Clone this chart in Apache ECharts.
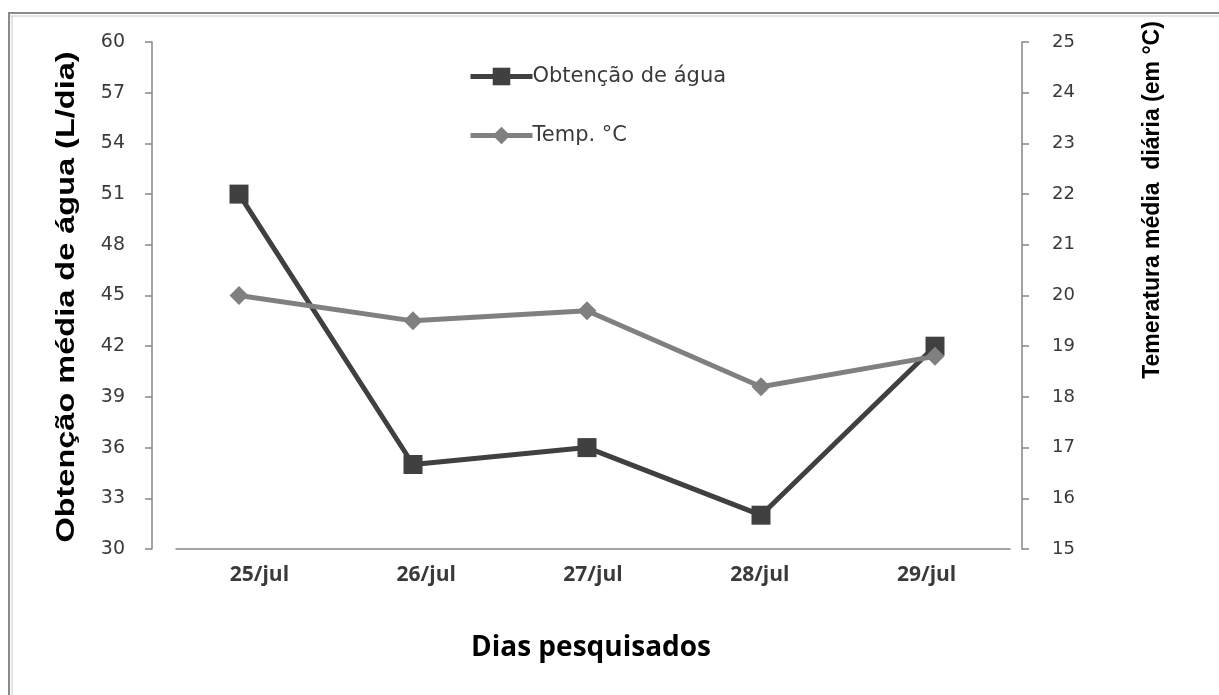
<!DOCTYPE html>
<html>
<head>
<meta charset="utf-8" />
<title></title>
<script src="https://cdn.jsdelivr.net/npm/echarts@6/dist/echarts.min.js"></script>
<style>
html,body{margin:0;padding:0;background:#fff;}
#main{width:1219px;height:695px;}
</style>
</head>
<body>
<div id="main"></div>
<script type="text/javascript">
/* dados */
var dias = ['25/jul', '26/jul', '27/jul', '28/jul', '29/jul'];
var agua = [51, 35, 36, 32, 42];
var temp = [20, 19.5, 19.7, 18.2, 18.8];
var aguaTicks = [30, 60, 3];
var tempTicks = [15, 25, 1];

var chart = echarts.init(document.getElementById('main'));
var cinza = '#868686';
var texto = '#3a3a3a';

var option = {
    animation: false,
    legend: {
        orient: 'vertical',
        left: 463,
        top: 61,
        itemWidth: 62,
        itemHeight: 22,
        itemGap: 38,
        lineStyle: { width: 5 },
        textStyle: { fontFamily: 'DejaVu Sans', fontSize: 21, color: texto, padding: [0, 0, 0, -5] },
        data: ['Obtenção de água', 'Temp. °C']
    },
    grid: [
        { left: 152, right: 197, top: 42, bottom: 146 },
        { left: 176, right: 209, top: 42, bottom: 146 }
    ],
    xAxis: [
        { type: 'category', gridIndex: 0, data: dias, show: false },
        {
            type: 'category', gridIndex: 1, data: dias,
            axisLine: { lineStyle: { color: cinza, width: 1.5 } },
            axisTick: { length: 6, lineStyle: { color: cinza, width: 1.5 } },
            axisLabel: { fontFamily: 'Open Sans', fontSize: 21, fontWeight: 'bold', color: texto, margin: 16 }
        }
    ],
    yAxis: [
        {
            type: 'value', gridIndex: 0, position: 'left',
            min: aguaTicks[0], max: aguaTicks[1], interval: aguaTicks[2],
            splitLine: { show: false },
            axisLine: { show: true, lineStyle: { color: cinza, width: 1.5 } },
            axisTick: { show: true, length: 7, lineStyle: { color: cinza, width: 1.5 } },
            axisLabel: { fontFamily: 'DejaVu Sans', fontSize: 19, color: texto, margin: 27 }
        },
        {
            type: 'value', gridIndex: 0, position: 'right',
            min: tempTicks[0], max: tempTicks[1], interval: tempTicks[2],
            splitLine: { show: false },
            axisLine: { show: true, lineStyle: { color: cinza, width: 1.5 } },
            axisTick: { show: true, length: 7, lineStyle: { color: cinza, width: 1.5 } },
            axisLabel: { fontFamily: 'DejaVu Sans', fontSize: 18, color: texto, margin: 30 }
        },
        { type: 'value', gridIndex: 1, show: false }
    ],
    graphic: [
        { type: 'line', shape: { x1: 8, y1: 13, x2: 1219, y2: 13 }, style: { stroke: '#8a8a8a', lineWidth: 2 } },
        { type: 'line', shape: { x1: 8, y1: 16, x2: 1219, y2: 16 }, style: { stroke: '#c8c8c8', lineWidth: 1 } },
        { type: 'line', shape: { x1: 9, y1: 13, x2: 9, y2: 695 }, style: { stroke: '#8a8a8a', lineWidth: 2 } },
        { type: 'line', shape: { x1: 12, y1: 16, x2: 12, y2: 695 }, style: { stroke: '#c8c8c8', lineWidth: 1 } },
        {
            type: 'text', x: 67, y: 297, rotation: Math.PI / 2, scaleX: 1.3,
            style: {
                text: 'Obtenção média de água (L/dia)', x: 0, y: 0,
                align: 'center', verticalAlign: 'middle',
                font: 'bold 25px "Liberation Sans"', fill: '#000'
            }
        },
        {
            type: 'text', x: 1153, y: 200, rotation: Math.PI / 2,
            style: {
                text: 'Temeratura média  diária (em °C)', x: 0, y: 0,
                align: 'center', verticalAlign: 'middle',
                font: 'bold 23px "Liberation Sans"', fill: '#000'
            }
        },
        {
            type: 'text', x: 591, y: 648,
            style: {
                text: 'Dias pesquisados', x: 0, y: 0,
                align: 'center', verticalAlign: 'middle',
                font: 'bold 28px "Open Sans"', fill: '#000'
            }
        }
    ],
    series: [
        {
            name: 'Obtenção de água', type: 'line',
            xAxisIndex: 0, yAxisIndex: 0,
            data: agua,
            symbol: 'rect', symbolSize: 19,
            lineStyle: { color: '#404040', width: 5 },
            itemStyle: { color: '#404040' }
        },
        {
            name: 'Temp. °C', type: 'line',
            xAxisIndex: 0, yAxisIndex: 1,
            data: temp,
            symbol: 'diamond', symbolSize: 19,
            lineStyle: { color: '#808080', width: 5 },
            itemStyle: { color: '#808080' }
        }
    ]
};
chart.setOption(option);
window.onresize = chart.resize;
</script>
</body>
</html>
